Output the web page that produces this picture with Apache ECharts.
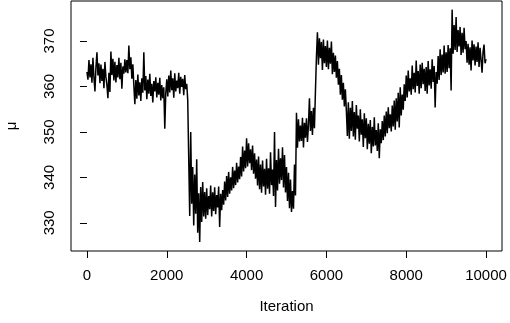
<!DOCTYPE html>
<html>
<head>
<meta charset="utf-8">
<script src="https://cdn.jsdelivr.net/npm/echarts@6/dist/echarts.min.js"></script>
<style>
  html, body { margin: 0; padding: 0; background: #fff; }
  #chart { width: 510px; height: 323px; }
</style>
</head>
<body>
<div id="chart"></div>
<script>
// trace of mu, one value every 25 iterations
const step = 25;
const muTrace = [
  363.2, 361.5, 365.8, 362.0, 364.9, 360.8, 366.3, 361.9, 358.9, 364.2, 367.5, 362.4, 365.1, 360.7, 364.8, 361.2, 363.9, 359.6, 365.4, 362.1,
  360.3, 357.4, 363.0, 358.8, 367.7, 362.5, 366.1, 361.3, 365.4, 360.9, 364.7, 362.0, 366.3, 361.6, 365.2, 359.5, 364.4, 362.8, 366.0, 363.1,
  365.8, 362.9, 369.0, 363.8, 366.4, 361.7, 364.9, 360.2, 356.1, 361.4, 357.3, 362.6, 358.0, 360.9, 356.8, 361.8, 358.6, 367.5, 359.1, 362.3,
  357.2, 361.5, 358.4, 362.8, 357.9, 360.6, 356.5, 361.2, 358.9, 362.0, 357.6, 360.8, 358.2, 361.9, 356.9, 360.3, 357.4, 359.8, 350.7, 358.5,
  361.6, 357.8, 362.4, 358.7, 363.5, 359.2, 361.8, 357.5, 362.9, 358.9, 361.3, 359.6, 363.0, 358.4, 362.1, 359.9, 361.7, 358.1, 362.5, 359.4,
  360.6, 357.0, 344.0, 331.5, 350.0, 334.2, 342.3, 329.4, 340.6, 332.0, 344.0, 327.8, 336.5, 325.8, 337.9, 330.2, 339.0, 331.4, 336.8, 330.9,
  337.6, 331.7, 335.9, 333.0, 338.2, 331.4, 336.7, 332.6, 337.8, 331.9, 336.1, 333.4, 338.0, 329.1, 336.4, 332.8, 337.2, 334.0, 339.1, 334.9,
  340.3, 335.7, 341.2, 336.4, 340.0, 337.1, 342.3, 337.6, 341.5, 338.3, 343.2, 338.9, 342.4, 339.6, 344.5, 340.2, 346.8, 341.3, 345.9, 342.0,
  348.6, 342.4, 347.5, 343.1, 346.2, 341.6, 347.0, 340.8, 345.3, 339.7, 343.9, 338.2, 344.6, 337.4, 342.8, 336.6, 343.7, 338.0, 341.9, 336.2,
  344.1, 337.5, 342.0, 336.4, 345.5, 338.3, 341.7, 335.9, 350.0, 333.5, 343.8, 337.1, 346.3, 338.6, 344.2, 339.4, 346.6, 337.8, 344.9, 336.7,
  342.3, 334.8, 341.0, 333.2, 339.5, 332.4, 337.0, 333.1, 342.8, 336.0, 354.2, 346.5, 352.8, 347.9, 351.4, 348.0, 353.1, 346.6, 352.0, 348.7,
  353.0, 347.8, 351.6, 357.4, 350.2, 354.6, 349.3, 355.3, 350.8, 358.9, 366.5, 371.9, 364.8, 370.6, 366.2, 369.8, 363.6, 370.3, 365.1, 368.9,
  364.3, 370.1, 363.8, 368.5, 365.0, 369.9, 362.7, 367.4, 363.2, 366.8, 361.9, 365.6, 360.4, 363.9, 358.2, 362.5, 357.1, 360.8, 355.6, 359.4,
  354.7, 349.1, 356.5, 348.5, 355.3, 350.2, 356.8, 349.0, 354.4, 348.3, 355.9, 350.7, 353.6, 347.9, 355.0, 349.4, 352.8, 346.7, 354.1, 348.6,
  353.0, 346.2, 351.8, 347.4, 352.6, 345.3, 351.1, 346.8, 353.2, 347.0, 350.4, 345.8, 351.9, 344.2, 350.6, 347.5, 352.4, 348.2, 353.6, 349.0,
  354.5, 349.7, 355.4, 350.8, 353.9, 350.1, 355.8, 351.2, 356.9, 350.5, 357.4, 352.3, 358.6, 351.0, 359.8, 353.6, 358.2, 354.9, 360.5, 356.8,
  362.4, 357.6, 363.5, 358.9, 361.8, 358.2, 364.6, 359.4, 363.0, 358.7, 365.7, 360.1, 363.4, 358.4, 364.8, 359.6, 365.2, 360.5, 363.9, 359.0,
  364.3, 358.4, 365.6, 360.2, 363.8, 359.5, 366.0, 361.0, 364.5, 355.4, 363.2, 360.6, 366.7, 361.4, 368.2, 362.5, 367.0, 363.1, 369.0, 362.8,
  367.5, 363.2, 369.1, 364.0, 368.4, 359.1, 376.9, 367.2, 373.5, 368.0, 375.3, 367.6, 372.4, 368.8, 373.1, 366.9, 371.8, 367.4, 372.9, 368.2,
  370.0, 365.2, 369.4, 364.8, 368.6, 363.5, 370.1, 365.7, 369.3, 364.6, 368.8, 365.4, 369.7, 364.3, 368.5, 365.9, 363.0, 367.6, 369.2, 365.1,
  366.0
];
const xTicks = [0, 2000, 4000, 6000, 8000, 10000];
const yTicks = [330, 340, 350, 360, 370];

const points = muTrace.map((v, i) => [i * step, v]);

const font = 'Liberation Sans, Arial, sans-serif';
const chart = echarts.init(document.getElementById('chart'), null, { renderer: 'canvas' });
chart.setOption({
  animation: false,
  grid: {
    left: 71, right: 8, top: 1, bottom: 72,
    outerBoundsMode: 'none',
    containLabel: false,
    show: true, borderColor: '#000', borderWidth: 1
  },
  xAxis: {
    type: 'value',
    min: -400, max: 10400,
    name: 'Iteration',
    nameLocation: 'middle',
    nameGap: 48,
    nameTextStyle: { fontFamily: font, fontSize: 15, color: '#000' },
    axisLine: { show: false },
    splitLine: { show: false },
    axisTick: { show: true, inside: false, length: 7, customValues: xTicks, lineStyle: { color: '#000' } },
    axisLabel: { customValues: xTicks, margin: 17, fontFamily: font, fontSize: 15, color: '#000', formatter: v => String(v) }
  },
  yAxis: {
    type: 'value',
    min: 323.8, max: 378.8,
    name: 'μ',
    nameLocation: 'middle',
    nameGap: 52,
    nameRotate: 90,
    nameTextStyle: { fontFamily: font, fontSize: 15, color: '#000' },
    axisLine: { show: false },
    splitLine: { show: false },
    axisTick: { show: true, inside: false, length: 7, customValues: yTicks, lineStyle: { color: '#000' } },
    axisLabel: { customValues: yTicks, rotate: 90, margin: 14, fontFamily: font, fontSize: 15, color: '#000', formatter: v => String(v) }
  },
  series: [{
    type: 'line',
    data: points,
    showSymbol: false,
    lineStyle: { color: '#000', width: 1.5 }
  }]
});
</script>
</body>
</html>
